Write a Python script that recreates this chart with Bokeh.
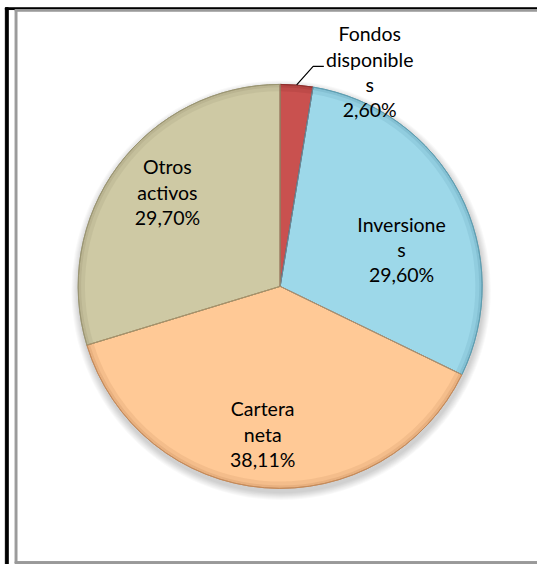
import math
from bokeh.plotting import figure
from bokeh.models import Range1d, ColumnDataSource
from bokeh.core.properties import value
from bokeh.embed import file_html
from bokeh.resources import INLINE

# ---- data ----
categories = ["Fondos disponibles", "Inversiones", "Cartera neta", "Otros activos"]
label_texts = ["Fondos\ndisponible\ns\n2,60%", "Inversione\ns\n29,60%", "Cartera\nneta\n38,11%", "Otros\nactivos\n29,70%"]
percentages = [2.60, 29.60, 38.11, 29.70]
colors = ["#C9514F", "#9DD8E9", "#FFC996", "#CEC9A4"]
rim_colors = ["#8E2F2D", "#5E9DB0", "#C48A5A", "#9A9572"]

# ---- layout (data units == reference pixels; data y = REF_H - ref y) ----
W, H = 537, 564
REF_W, REF_H = 553, 580
CX, CY = 288, REF_H - 294
R = 208
# per label: (radial factor, angle nudge in degrees)
label_layout = [(1.15, -18.0), (0.628, -10.5), (0.736, -2.25), (0.727, -3.3)]

p = figure(width=W, height=H, x_range=Range1d(0, REF_W), y_range=Range1d(0, REF_H),
           output_backend="svg", toolbar_location=None, min_border=0)
p.axis.visible = False
p.grid.visible = False
p.outline_line_color = None
p.background_fill_color = "white"
p.border_fill_color = "white"

def ry(y):
    return REF_H - y

# frame decoration
p.quad(left=[5], right=[REF_W], top=[ry(7.5)], bottom=[ry(9.3)], color="black")
p.quad(left=[5], right=[8], top=[ry(7.5)], bottom=[0], color="black")
p.quad(left=[15], right=[REF_W], top=[ry(9.3)], bottom=[ry(11)], color="#9A9A9A")
p.quad(left=[15], right=[17], top=[ry(9.3)], bottom=[ry(579)], color="#9A9A9A")
p.quad(left=[15], right=[REF_W], top=[ry(577)], bottom=[ry(579)], color="#9A9A9A")

# angles: start at top, clockwise
total = sum(percentages)
starts, ends, mids = [], [], []
a = math.pi / 2
for v in percentages:
    span = v / total * 2 * math.pi
    starts.append(a - span)
    ends.append(a)
    mids.append(a - span / 2)
    a -= span

# soft shadow
for i in range(8):
    p.circle(x=[CX + 1], y=[CY - 4], radius=R + 1 + i, fill_color="black", fill_alpha=0.025,
             line_color=None)

src = ColumnDataSource(dict(start=starts, end=ends, color=colors, rim=rim_colors))
p.wedge(x=CX, y=CY, radius=R, start_angle="start", end_angle="end", fill_color="color",
        line_color="rim", line_width=1, source=src)
# bevel rim
p.annular_wedge(x=CX, y=CY, inner_radius=R - 7, outer_radius=R, start_angle="start", end_angle="end",
                fill_color="rim", fill_alpha=0.18, line_color=None, source=src)
p.annular_wedge(x=CX, y=CY, inner_radius=R - 3, outer_radius=R, start_angle="start", end_angle="end",
                fill_color="rim", fill_alpha=0.25, line_color=None, source=src)
p.wedge(x=CX, y=CY, radius=R, start_angle="start", end_angle="end", fill_color=None,
        line_color="rim", line_width=1, line_alpha=0.8, source=src)

# labels
lx, ly = [], []
for m, (k, nud) in zip(mids, label_layout):
    ang = m + math.radians(nud)
    lx.append(CX + k * R * math.cos(ang))
    ly.append(CY + k * R * math.sin(ang))
p.text(x=lx, y=ly, text=label_texts, text_align="center", text_baseline="middle",
       text_font=value("Lato"), text_font_size="19.5px", text_color="black", text_line_height=1.1)

# leader line for the small slice
sx = CX + R * math.cos(mids[0])
sy = CY + R * math.sin(mids[0])
p.line(x=[sx, sx + 17, sx + 28], y=[sy, sy + 19, sy + 19], line_color="black", line_width=1.2)

open("out.html", "w").write(file_html(p, INLINE))
